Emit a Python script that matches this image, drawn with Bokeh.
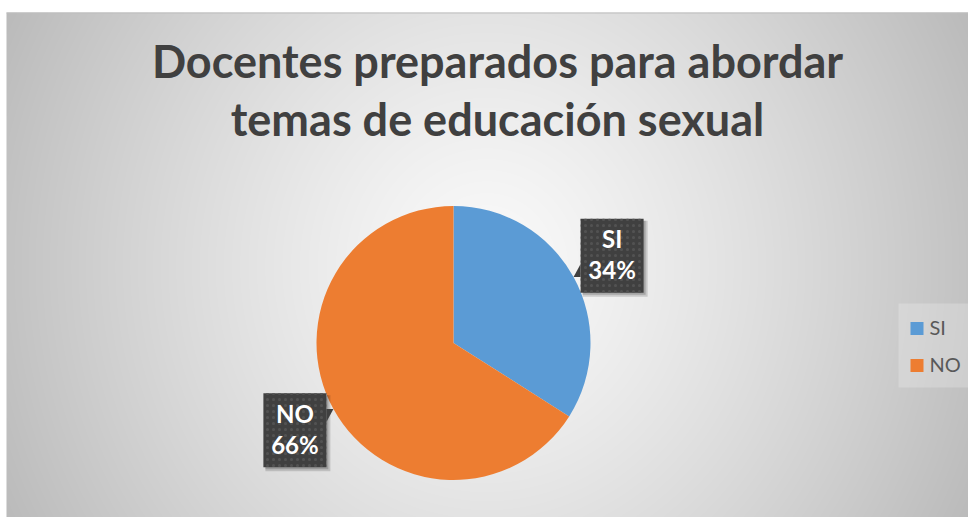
import numpy as np
from bokeh.plotting import figure
from bokeh.models import Range1d
from bokeh.core.properties import value
from bokeh.embed import file_html
from bokeh.resources import INLINE

# ---- data ----
categories = ["SI", "NO"]
values = [34, 66]
colors = ["#5B9BD5", "#ED7D31"]
title_lines = ["Docentes preparados para abordar", "temas de educación sexual"]

W, H = 968, 517
def Y(ys):  # picture y -> data y
    return H - ys

p = figure(width=W, height=H, x_range=Range1d(0, W), y_range=Range1d(0, H),
           output_backend="svg", toolbar_location=None, min_border=0)
p.axis.visible = False
p.grid.visible = False
p.outline_line_color = None
p.background_fill_color = "white"
p.border_fill_color = "white"

# ---- background radial gradient ----
gh, gw = H - 12, W - 6
yy, xx = np.mgrid[0:gh, 0:gw]
dx = (xx - 480) / 480.0
dy = (yy - 250) / 300.0
d = np.sqrt(dx**2 + 0.35 * dy**2)
v = np.clip(250 - 55 * d**1.25, 185, 255).astype(np.uint32)
img = (255 << 24) | (v << 16) | (v << 8) | v
p.image_rgba(image=[img.view(np.uint32)], x=6, y=0, dw=gw, dh=gh)
p.line(x=[6, W], y=[Y(12.5), Y(12.5)], line_color="#BDBDBD", line_width=1)

# ---- title ----
for i, line in enumerate(title_lines):
    p.text(x=[497], y=[Y(60 + 58 * i)], text=[line], text_font=value("Lato"),
           text_font_style="bold", text_font_size="45px", text_color="#404040",
           text_align="center", text_baseline="alphabetic")

# ---- pie ----
cx, cy, r = 453, Y(342.5), 137
total = float(sum(values))
cum = np.concatenate([[0], np.cumsum(values)]) / total
starts = np.pi / 2 - 2 * np.pi * cum[:-1]
ends = np.pi / 2 - 2 * np.pi * cum[1:]
p.wedge(x=cx, y=cy, radius=r, start_angle=starts, end_angle=ends,
        direction="clock", fill_color=colors, line_color=None)

# ---- data labels ----
bw, bh = 63, 74
for cat, val, s, e in zip(categories, values, starts, ends):
    m = (s + e) / 2
    tx, ty = cx + r * np.cos(m), cy + r * np.sin(m)
    bx, by = cx + (r + 44) * np.cos(m), cy + (r + 44) * np.sin(m)
    # shadow
    p.rect(x=bx + 3, y=by - 3, width=bw + 2, height=bh + 2, fill_color="black",
           fill_alpha=0.15, line_color=None)
    p.rect(x=bx + 2, y=by - 2, width=bw, height=bh, fill_color="black",
           fill_alpha=0.18, line_color=None)
    # notch
    ex = bx - bw / 2 if tx < bx else bx + bw / 2
    sgn = 1 if by > ty else -1
    p.patch(x=[ex, ex, tx], y=[ty, ty + 13 * sgn, ty], fill_color="#404040", line_color=None)
    p.rect(x=bx, y=by, width=bw, height=bh, fill_color="#404040", line_color=None,
           hatch_pattern="dot", hatch_color="#525252", hatch_scale=6, hatch_weight=1.5)
    pct = f"{round(100 * val / total)}%"
    p.text(x=[bx], y=[by + 17], text=[cat], text_font=value("Lato"), text_font_style="bold",
           text_font_size="24px", text_color="white", text_align="center",
           text_baseline="alphabetic")
    p.text(x=[bx], y=[by - 14], text=[pct], text_font=value("Lato"), text_font_style="bold",
           text_font_size="24px", text_color="white", text_align="center",
           text_baseline="alphabetic")

# ---- legend ----
p.quad(left=898, right=970, top=Y(303), bottom=Y(387), fill_color="white",
       fill_alpha=0.22, line_color=None)
for i, (cat, col) in enumerate(zip(categories, colors)):
    sy = Y(328 + 37 * i)
    p.rect(x=916.5, y=sy, width=13, height=13, fill_color=col, line_color=None)
    p.text(x=[929], y=[sy + 2], text=[cat], text_font=value("Lato"),
           text_font_size="20px", text_color="#595959", text_align="left",
           text_baseline="middle")

open("out.html", "w").write(file_html(p, INLINE))
